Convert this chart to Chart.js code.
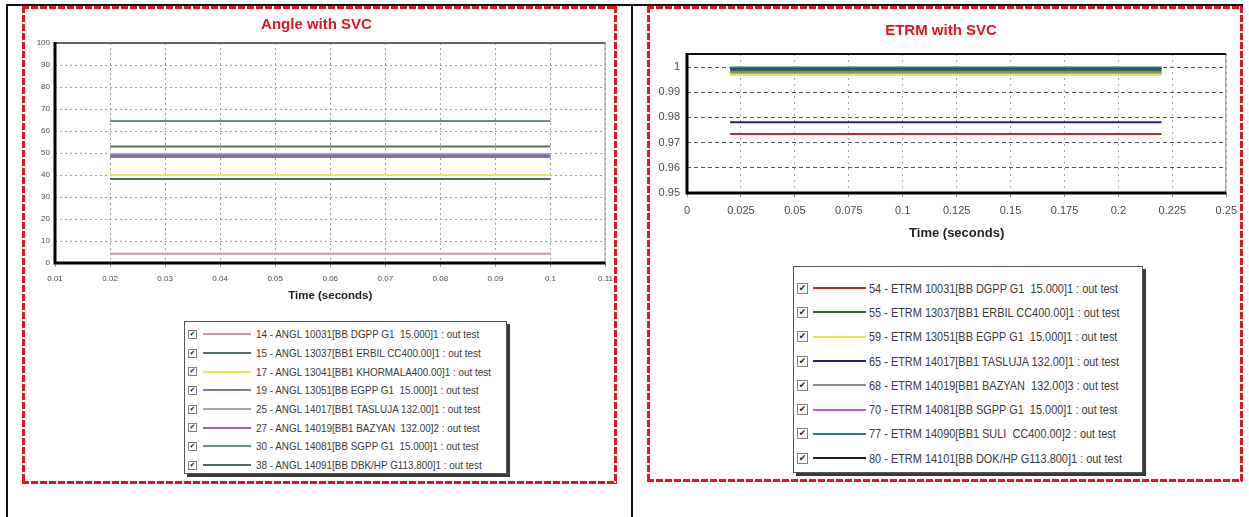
<!DOCTYPE html>
<html>
<head>
<meta charset="utf-8">
<title>Angle / ETRM with SVC</title>
<script src="https://cdn.jsdelivr.net/npm/chart.js@4.4.1/dist/chart.umd.min.js"></script>
<style>
    body {
        margin: 0;
        width: 1249px;
        height: 517px;
        position: relative;
        overflow: hidden;
        background: #fff;
        font-family: 'Liberation Sans', Arial, sans-serif;
    }
    .rule { position: absolute; background: #111; }
    .frame {
        position: absolute;
        box-sizing: border-box;
        background:
            repeating-linear-gradient(90deg, #e3141b 0 7px, transparent 7px 9px) top left / 100% 3px no-repeat,
            repeating-linear-gradient(90deg, #e3141b 0 7px, transparent 7px 9px) bottom left / 100% 3px no-repeat,
            repeating-linear-gradient(180deg, #e3141b 0 7px, transparent 7px 9px) top left / 3px 100% no-repeat,
            repeating-linear-gradient(180deg, #e3141b 0 7px, transparent 7px 9px) top right / 3px 100% no-repeat;
    }
    .plot { position: absolute; }
    .legend {
        position: absolute;
        box-sizing: border-box;
        border: 1px solid #555;
        background: #fff;
        box-shadow: 3px 3px 0 #3a3a3a;
        color: #3a3a3a;
    }
    .legend .row {
        display: flex;
        align-items: center;
        white-space: pre;
    }
    .legend .check {
        box-sizing: border-box;
        border: 1px solid #808080;
        background: #fff;
        display: flex;
        align-items: center;
        justify-content: center;
        color: #222;
        font-family: 'DejaVu Sans', sans-serif;
        line-height: 1;
        flex: none;
    }
    .legend .swatch { height: 2px; flex: none; }
    .legend .text {
        display: inline-block;
        transform-origin: left center;
    }
</style>
</head>
<body>

<div class="rule" style="left:6px; top:4px; width:1237px; height:2px;"></div>
<div class="rule" style="left:6px; top:4px; width:2px; height:513px;"></div>
<div class="rule" style="left:631px; top:4px; width:2px; height:513px;"></div>

<div class="frame" style="left:22px; top:6px; width:595px; height:478px;"></div>
<div class="frame" style="left:647px; top:6px; width:596px; height:476px;"></div>

<canvas id="angleChart" class="plot" width="595" height="300" style="left:25px; top:9px;"></canvas>
<canvas id="etrmChart" class="plot" width="594" height="250" style="left:650px; top:9px;"></canvas>

<div id="angleLegend" class="legend" style="left:184px; top:321px; width:323px; height:153px; padding-top:3px;"></div>
<div id="etrmLegend" class="legend" style="left:793px; top:266px; width:350px; height:207px; padding-top:9px;"></div>

<script>
// ---- Angle with SVC ----
const angleTime = [0.02, 0.1];
const angleXTicks = [0.01, 0.02, 0.03, 0.04, 0.05, 0.06, 0.07, 0.08, 0.09, 0.1, 0.11];
const angleYTicks = [0, 10, 20, 30, 40, 50, 60, 70, 80, 90, 100];

const angl14 = [4.2, 4.2];
const angl15 = [52.9, 52.9];
const angl17 = [40.0, 40.0];
const angl19 = [48.9, 48.9];
const angl25 = [49.6, 49.6];
const angl27 = [48.2, 48.2];
const angl30 = [64.6, 64.6];
const angl38 = [38.2, 38.2];

const angleLabels = [
    '14 - ANGL 10031[BB DGPP G1  15.000]1 : out test',
    '15 - ANGL 13037[BB1 ERBIL CC400.00]1 : out test',
    '17 - ANGL 13041[BB1 KHORMALA400.00]1 : out test',
    '19 - ANGL 13051[BB EGPP G1  15.000]1 : out test',
    '25 - ANGL 14017[BB1 TASLUJA 132.00]1 : out test',
    '27 - ANGL 14019[BB1 BAZYAN  132.00]2 : out test',
    '30 - ANGL 14081[BB SGPP G1  15.000]1 : out test',
    '38 - ANGL 14091[BB DBK/HP G113.800]1 : out test'
];
const angleSeries = [angl14, angl15, angl17, angl19, angl25, angl27, angl30, angl38];
const angleColors = ['#c79aa2', '#56706a', '#e6e660', '#7474b8', '#a8a8a8', '#9a6a9e', '#6e8c8e', '#4e6a5e'];

// ---- ETRM with SVC ----
const etrmTime = [0.02, 0.22];
const etrmXTicks = [0, 0.025, 0.05, 0.075, 0.1, 0.125, 0.15, 0.175, 0.2, 0.225, 0.25];
const etrmYTicks = [0.95, 0.96, 0.97, 0.98, 0.99, 1];

const etrm54 = [0.9734, 0.9734];
const etrm55 = [0.9988, 0.9988];
const etrm59 = [0.9969, 0.9969];
const etrm65 = [0.9781, 0.9781];
const etrm68 = [0.9978, 0.9978];
const etrm70 = [0.9981, 0.9981];
const etrm77 = [0.9998, 0.9998];
const etrm80 = [0.9995, 0.9995];

const etrmLabels = [
    '54 - ETRM 10031[BB DGPP G1  15.000]1 : out test',
    '55 - ETRM 13037[BB1 ERBIL CC400.00]1 : out test',
    '59 - ETRM 13051[BB EGPP G1  15.000]1 : out test',
    '65 - ETRM 14017[BB1 TASLUJA 132.00]1 : out test',
    '68 - ETRM 14019[BB1 BAZYAN  132.00]3 : out test',
    '70 - ETRM 14081[BB SGPP G1  15.000]1 : out test',
    '77 - ETRM 14090[BB1 SULI  CC400.00]2 : out test',
    '80 - ETRM 14101[BB DOK/HP G113.800]1 : out test'
];
const etrmSeries = [etrm54, etrm55, etrm59, etrm65, etrm68, etrm70, etrm77, etrm80];
const etrmColors = ['#c42a2a', '#2e6a3a', '#e6e650', '#20207c', '#8c8c8c', '#d050d0', '#2a8080', '#202020'];

const FONT = "'Liberation Sans', Arial, sans-serif";

// frame around the plot area: heavy black left/bottom, lighter top/right
const framePlugin = {
    id: 'frame',
    afterDatasetsDraw(chart, args, opts) {
        const { ctx, chartArea: a } = chart;
        ctx.save();
        ctx.setLineDash([]);
        ctx.strokeStyle = opts.topColor;
        ctx.lineWidth = opts.topWidth;
        ctx.beginPath();
        ctx.moveTo(a.left, a.top);
        ctx.lineTo(a.right, a.top);
        ctx.stroke();
        ctx.strokeStyle = opts.rightColor;
        ctx.lineWidth = 1;
        ctx.beginPath();
        ctx.moveTo(a.right - 0.5, a.top);
        ctx.lineTo(a.right - 0.5, a.bottom);
        ctx.stroke();
        ctx.strokeStyle = '#000';
        ctx.lineWidth = 3;
        ctx.beginPath();
        ctx.moveTo(a.left, a.top - 1);
        ctx.lineTo(a.left, a.bottom);
        ctx.lineTo(a.right, a.bottom);
        ctx.stroke();
        ctx.restore();
    }
};

function toPoints(times, values) {
    return times.map((t, i) => ({ x: t, y: values[i] }));
}

function tickText(v) {
    return String(+v.toFixed(4));
}

function buildChart(id, s) {
    const ctx = document.getElementById(id).getContext('2d');
    return new Chart(ctx, {
        type: 'line',
        data: {
            datasets: s.series.map((vals, i) => ({
                label: s.labels[i],
                data: toPoints(s.time, vals),
                borderColor: s.colors[i],
                borderWidth: 2,
                pointRadius: 0,
                tension: 0
            }))
        },
        options: {
            responsive: false,
            animation: false,
            devicePixelRatio: 1,
            layout: { padding: { left: 0, right: s.padRight, top: 0, bottom: 0 } },
            plugins: {
                legend: { display: false },
                tooltip: { enabled: false },
                title: {
                    display: true,
                    text: s.title,
                    color: '#e3141b',
                    font: { family: FONT, size: s.titleSize, weight: 'bold' },
                    padding: s.titlePad
                },
                frame: { topColor: s.topColor, topWidth: s.topWidth, rightColor: s.rightColor }
            },
            scales: {
                x: {
                    type: 'linear',
                    min: s.xTicks[0],
                    max: s.xTicks[s.xTicks.length - 1],
                    afterBuildTicks: sc => { sc.ticks = s.xTicks.map(v => ({ value: v })); },
                    afterFit: sc => { sc.height = s.xHeight; },
                    border: { display: false, dash: s.vGridDash },
                    grid: {
                        color: s.vGridColor,
                        tickColor: '#999',
                        tickLength: s.tickLength
                    },
                    ticks: {
                        callback: tickText,
                        color: '#4a4a4a',
                        font: { family: FONT, size: s.tickSize },
                        padding: s.xTickPad,
                        maxRotation: 0,
                        autoSkip: false
                    },
                    title: {
                        display: true,
                        text: 'Time (seconds)',
                        color: '#222',
                        font: { family: FONT, size: s.axisTitleSize, weight: 'bold' },
                        padding: { top: 0, bottom: s.axisTitlePad }
                    }
                },
                y: {
                    min: s.yMin,
                    max: s.yMax,
                    afterBuildTicks: sc => { sc.ticks = s.yTicks.map(v => ({ value: v })); },
                    afterFit: sc => { sc.width = s.yWidth; },
                    border: { display: false, dash: s.hGridDash },
                    grid: {
                        color: s.hGridColor,
                        drawTicks: false
                    },
                    ticks: {
                        callback: tickText,
                        color: '#4a4a4a',
                        font: { family: FONT, size: s.tickSize },
                        padding: s.yTickPad
                    }
                }
            }
        },
        plugins: [framePlugin]
    });
}

buildChart('angleChart', {
    title: 'Angle with SVC', titleSize: 15, titlePad: { top: 7, bottom: 9 },
    time: angleTime, series: angleSeries, labels: angleLabels, colors: angleColors,
    xTicks: angleXTicks, yTicks: angleYTicks, yMin: 0, yMax: 100,
    padRight: 12, xHeight: 46, yWidth: 30,
    tickSize: 8, tickLength: 4, xTickPad: 7, yTickPad: 5,
    axisTitleSize: 11.5, axisTitlePad: 6,
    vGridColor: '#a0a0a0', hGridColor: '#a0a0a0', vGridDash: [2, 3], hGridDash: [2, 3],
    topColor: '#5a6a66', topWidth: 2, rightColor: '#8aa2a8'
});

buildChart('etrmChart', {
    title: 'ETRM with SVC', titleSize: 15, titlePad: { top: 13, bottom: 14 },
    time: etrmTime, series: etrmSeries, labels: etrmLabels, colors: etrmColors,
    xTicks: etrmXTicks, yTicks: etrmYTicks, yMin: 0.95, yMax: 1.0052,
    padRight: 12, xHeight: 66, yWidth: 37,
    tickSize: 11, tickLength: 4, xTickPad: 7, yTickPad: 7,
    axisTitleSize: 13, axisTitlePad: 18,
    vGridColor: '#a8a8a8', hGridColor: '#555', vGridDash: [2, 4], hGridDash: [4, 3],
    topColor: '#111', topWidth: 2, rightColor: '#888'
});

// HTML legends with check boxes
function renderLegend(id, labels, colors, o) {
    const box = document.getElementById(id);
    box.innerHTML = labels.map((text, i) => `
        <div class="row" style="height:${o.rowH}px; font-size:${o.fontSize}px;">
            <span class="check" style="width:${o.check}px; height:${o.check}px; margin-left:${o.checkLeft}px; font-size:${o.check - 2}px;">&#10004;</span>
            <span class="swatch" style="background:${colors[i]}; width:${o.lineW}px; margin-left:${o.lineGap}px;"></span>
            <span class="text" style="margin-left:${o.textGap}px; transform:scaleX(${o.squeeze});">${text}</span>
        </div>
    `).join('');
}

renderLegend('angleLegend', angleLabels, angleColors,
    { rowH: 18.7, fontSize: 11.5, squeeze: 0.86, check: 9, checkLeft: 3, lineW: 48, lineGap: 6, textGap: 5 });
renderLegend('etrmLegend', etrmLabels, etrmColors,
    { rowH: 24.3, fontSize: 13.5, squeeze: 0.81, check: 11, checkLeft: 3, lineW: 53, lineGap: 5, textGap: 3 });
</script>
</body>
</html>
